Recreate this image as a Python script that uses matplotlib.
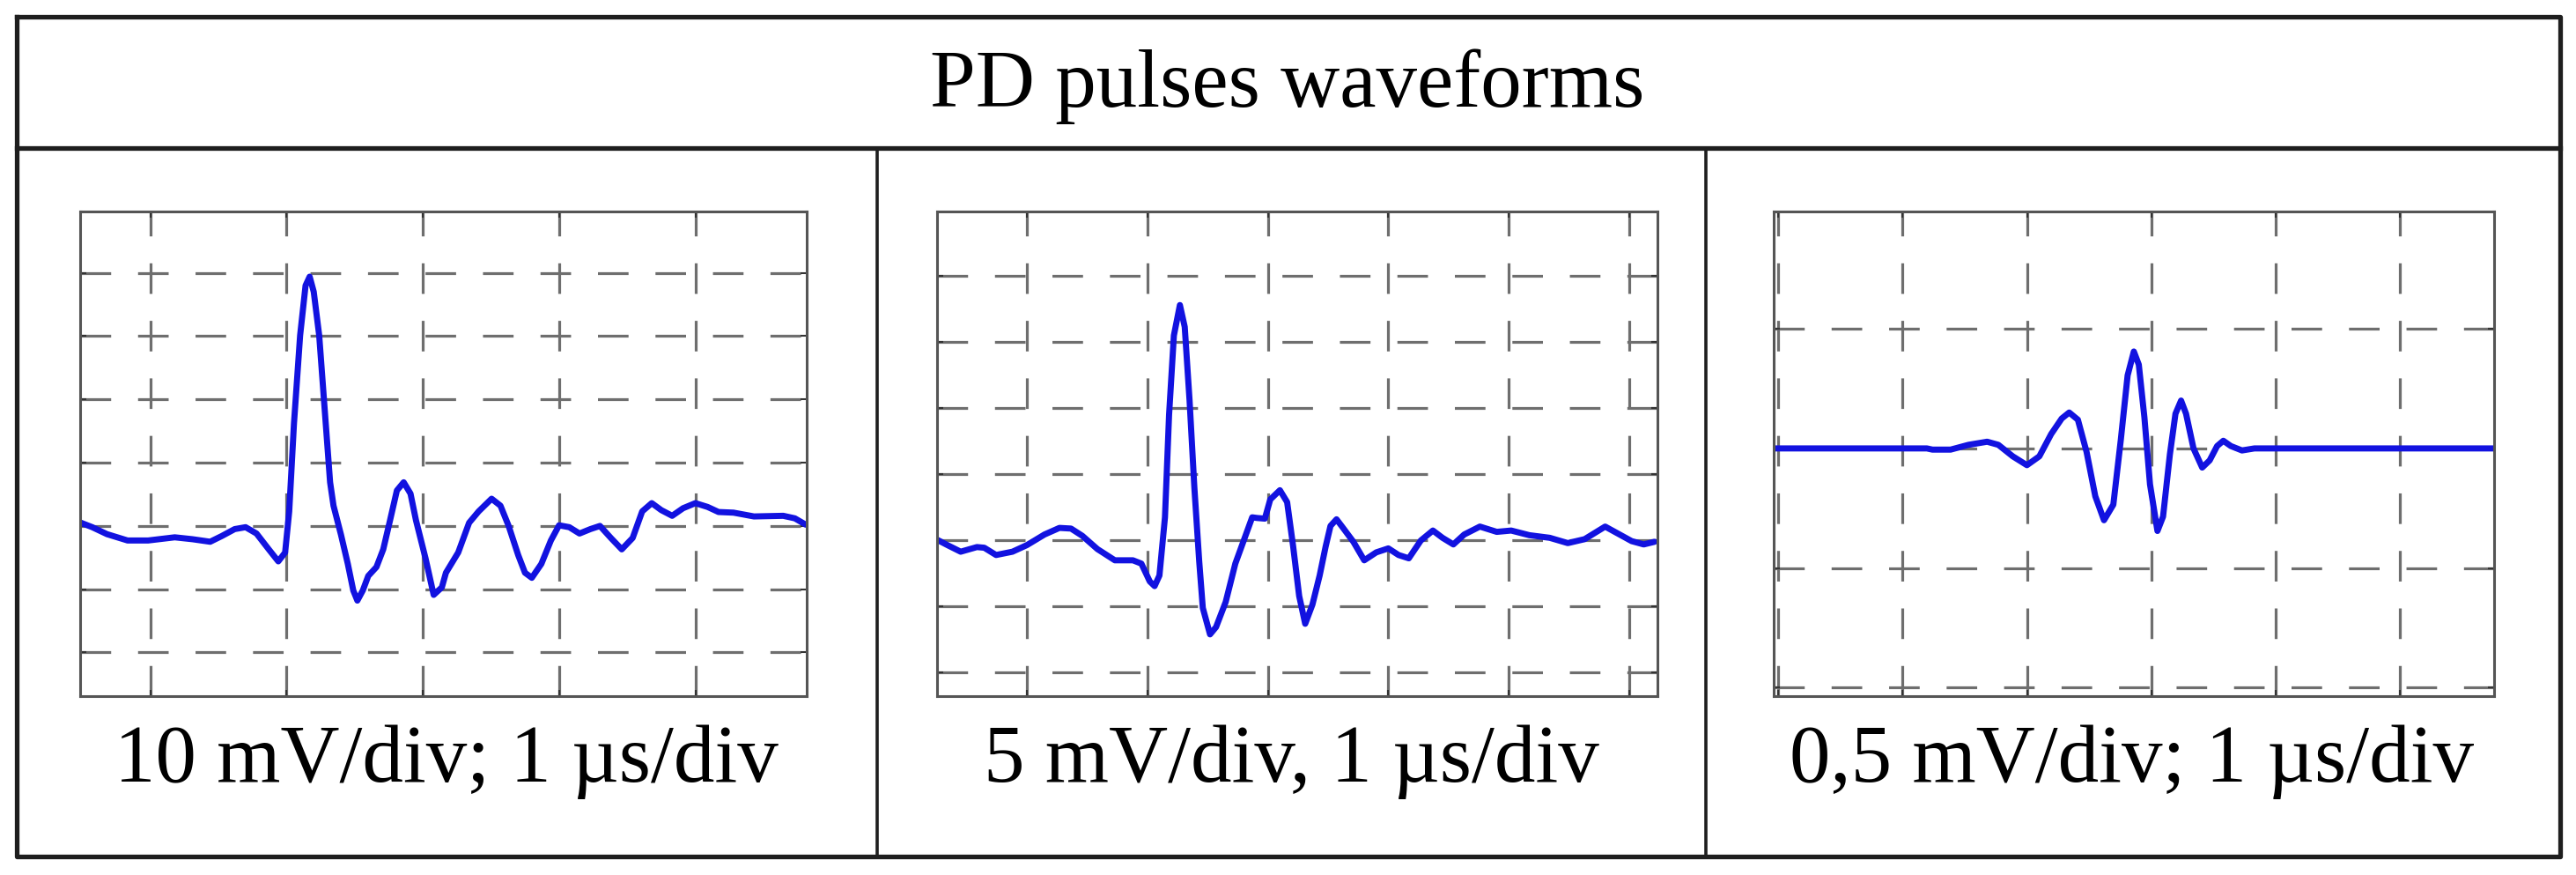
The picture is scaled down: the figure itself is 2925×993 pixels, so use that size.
import matplotlib
matplotlib.use("Agg")
import matplotlib.pyplot as plt
from matplotlib.lines import Line2D

plt.rcParams['font.family'] = ['Liberation Serif', 'DejaVu Serif']
plt.rcParams['lines.scale_dashes'] = False

# waveform samples (x in time divisions, y in amplitude divisions)
wave1_x = [-0.508, -0.425, -0.317, -0.166, -0.015, 0.18, 0.31, 0.44, 0.525, 0.62, 0.70, 0.78, 0.87,
           0.94, 0.99, 1.02, 1.055, 1.10, 1.14, 1.17, 1.20, 1.24, 1.28, 1.32, 1.345, 1.40, 1.45,
           1.49, 1.52, 1.56, 1.60, 1.66, 1.71, 1.76, 1.81, 1.86, 1.91, 1.95, 2.02, 2.08, 2.14,
           2.17, 2.26, 2.34, 2.41, 2.505, 2.57, 2.63, 2.70, 2.75, 2.80, 2.87, 2.94, 3.0, 3.075,
           3.15, 3.23, 3.30, 3.38, 3.46, 3.54, 3.61, 3.68, 3.75, 3.83, 3.91, 4.0, 4.09, 4.17,
           4.28, 4.43, 4.645, 4.73, 4.81]
wave1_y = [0.05, -0.02, -0.13, -0.23, -0.23, -0.18, -0.21, -0.25, -0.16, -0.05, -0.02, -0.12, -0.37,
           -0.56, -0.42, 0.23, 1.62, 3.01, 3.80, 3.94, 3.70, 3.01, 1.85, 0.69, 0.32, -0.14, -0.60,
           -1.02, -1.18, -1.02, -0.79, -0.65, -0.37, 0.09, 0.56, 0.69, 0.51, 0.09, -0.51, -1.09, -0.97,
           -0.74, -0.42, 0.05, 0.23, 0.43, 0.32, 0.0, -0.46, -0.74, -0.82, -0.60, -0.23, 0.01, -0.02,
           -0.12, -0.05, 0.0, -0.19, -0.37, -0.19, 0.23, 0.36, 0.25, 0.16, 0.28, 0.36, 0.30, 0.22,
           0.21, 0.15, 0.16, 0.12, 0.02]

wave2_x = [-0.744, -0.66, -0.55, -0.415, -0.354, -0.256, -0.12, 0.0, 0.146, 0.27, 0.366, 0.46, 0.585,
           0.73, 0.88, 0.95, 1.02, 1.06, 1.10, 1.146, 1.18, 1.22, 1.27, 1.31, 1.35, 1.39, 1.43,
           1.46, 1.52, 1.57, 1.65, 1.73, 1.80, 1.87, 1.91, 1.975, 2.02, 2.10, 2.16, 2.21, 2.26,
           2.31, 2.37, 2.43, 2.48, 2.52, 2.57, 2.62, 2.71, 2.80, 2.90, 3.0, 3.085, 3.17, 3.27,
           3.37, 3.45, 3.54, 3.63, 3.76, 3.90, 4.02, 4.17, 4.34, 4.49, 4.63, 4.80, 4.90, 5.02,
           5.12, 5.21]
wave2_y = [0.01, -0.07, -0.17, -0.10, -0.11, -0.22, -0.17, -0.07, 0.09, 0.19, 0.18, 0.07, -0.13,
           -0.30, -0.30, -0.35, -0.62, -0.69, -0.53, 0.35, 1.90, 3.10, 3.56, 3.23, 2.12, 0.80, -0.31,
           -1.02, -1.42, -1.31, -0.93, -0.35, 0.0, 0.35, 0.34, 0.33, 0.62, 0.76, 0.58, -0.09, -0.84,
           -1.26, -0.97, -0.53, -0.09, 0.22, 0.32, 0.20, -0.02, -0.30, -0.18, -0.12, -0.22, -0.27, 0.0,
           0.15, 0.04, -0.06, 0.09, 0.21, 0.13, 0.15, 0.08, 0.04, -0.04, 0.02, 0.21, 0.11, -0.01,
           -0.06, -0.02]

wave3_x = [-1.04, 0.05, 0.195, 0.24, 0.386, 0.53, 0.68, 0.77, 0.886, 1.0, 1.10, 1.195, 1.28, 1.34,
           1.41, 1.48, 1.55, 1.62, 1.695, 1.755, 1.81, 1.86, 1.90, 1.945, 1.99, 2.05, 2.095, 2.15,
           2.195, 2.24, 2.28, 2.34, 2.41, 2.47, 2.53, 2.58, 2.64, 2.73, 2.83, 3.05, 4.76]
wave3_y = [0.0, 0.0, 0.0, -0.01, -0.01, 0.03, 0.056, 0.03, -0.066, -0.14, -0.066, 0.12, 0.25, 0.30,
           0.24, -0.03, -0.40, -0.60, -0.47, 0.07, 0.61, 0.81, 0.70, 0.26, -0.30, -0.69, -0.57, -0.05,
           0.29, 0.40, 0.29, 0.0, -0.16, -0.10, 0.02, 0.064, 0.02, -0.017, 0.0, 0.0, 0.0]

title = "PD pulses waveforms"
labels = ["10 mV/div; 1 \u00b5s/div", "5 mV/div, 1 \u00b5s/div", "0,5 mV/div; 1 \u00b5s/div"]

W, H = 2925, 993
fig = plt.figure(figsize=(W / 100, H / 100), dpi=100)
fig.patch.set_facecolor('white')


def fx(px):
    return px / W


def fy(py):
    return 1 - py / H


# table frame
frame_kw = dict(color='#1e1e1e', solid_capstyle='projecting')
x0, x1, y0, y1 = 19, 2907, 19, 972
fig.add_artist(Line2D([fx(x0), fx(x1), fx(x1), fx(x0), fx(x0)],
                      [fy(y0), fy(y0), fy(y1), fy(y1), fy(y0)], lw=3.8, **frame_kw))
fig.add_artist(Line2D([fx(x0), fx(x1)], [fy(168), fy(168)], lw=3.8, **frame_kw))
for xd in (996, 1937):
    fig.add_artist(Line2D([fx(xd), fx(xd)], [fy(168), fy(y1)], lw=2.6, **frame_kw))

fig.text(fx(1462), fy(121), title, ha='center', va='baseline', fontsize=67)

# axes boxes in pixels: left, right ; limits in divisions
panels = [
    dict(px=(91, 916), xlim=(-0.514, 4.817), ylim=(-2.69, 4.97),
         xt=range(0, 5), yt=range(-2, 5), x=wave1_x, y=wave1_y, cx=507),
    dict(px=(1064, 1882), xlim=(-0.746, 5.234), ylim=(-2.354, 4.975),
         xt=range(0, 6), yt=range(-2, 5), x=wave2_x, y=wave2_y, cx=1466),
    dict(px=(2014, 2832), xlim=(-1.037, 4.758), ylim=(-2.07, 1.98),
         xt=range(-1, 5), yt=range(-2, 2), x=wave3_x, y=wave3_y, cx=2421),
]
top, bottom = 240, 790

for i, p in enumerate(panels):
    l, r = p['px']
    ax = fig.add_axes([fx(l), fy(bottom), (r - l) / W, (bottom - top) / H])
    ax.set_xlim(*p['xlim'])
    ax.set_ylim(*p['ylim'])
    ax.set_xticks(list(p['xt']))
    ax.set_yticks(list(p['yt']))
    ax.set_xticklabels([])
    ax.set_yticklabels([])
    ax.tick_params(direction='in', length=5, width=1.5, color='#333333',
                   top=True, right=True)
    ax.grid(True, color='#6e6e6e', linewidth=2.3, linestyle=(0, (25, 22)))
    for s in ax.spines.values():
        s.set_color('#555555')
        s.set_linewidth(2.2)
    ax.plot(p['x'], p['y'], color='#1212e0', linewidth=5.0,
            solid_joinstyle='round', solid_capstyle='round')
    fig.text(fx(p['cx']), fy(887), labels[i], ha='center', va='baseline', fontsize=67)

fig.savefig('out.png', dpi=100, facecolor='white')
